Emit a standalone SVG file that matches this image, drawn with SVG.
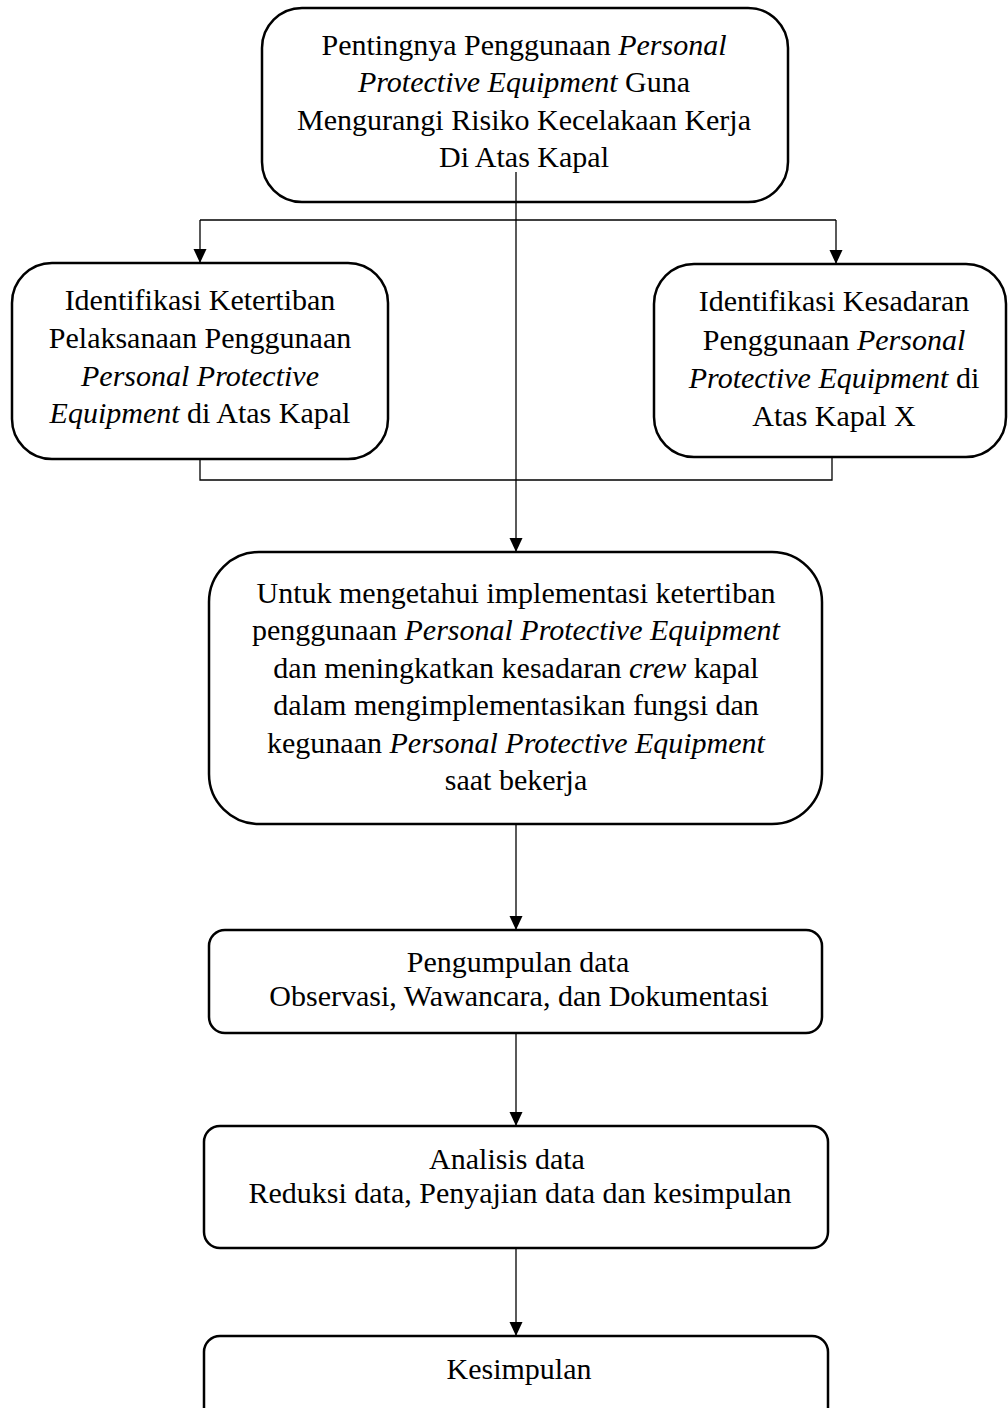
<svg xmlns="http://www.w3.org/2000/svg" width="1008" height="1408" viewBox="0 0 1008 1408">
<style>
.box{fill:#fff;stroke:#000;stroke-width:2.5}
.t{font-family:"Liberation Serif","Times New Roman",serif;font-size:30px;fill:#000;text-anchor:middle}
.i{font-style:italic}
.ln{fill:none;stroke:#000;stroke-width:1.3}
</style>
<defs>
<marker id="ah" markerWidth="14" markerHeight="16" refX="14" refY="7" orient="auto" markerUnits="userSpaceOnUse" viewBox="0 0 14 14">
<path d="M0,0.5 L14,7 L0,13.5 Z" fill="#000"/>
</marker>
</defs>
<rect width="1008" height="1408" fill="#fff"/>
<g id="n1">
<rect class="box" x="262" y="8" width="526" height="194" rx="40"/>
<text class="t" x="524" y="55">Pentingnya Penggunaan <tspan class="i">Personal</tspan></text>
<text class="t" x="524" y="92"><tspan class="i">Protective Equipment</tspan> Guna</text>
<text class="t" x="524" y="130">Mengurangi Risiko Kecelakaan Kerja</text>
<text class="t" x="524" y="167">Di Atas Kapal</text>
</g>
<g id="n2">
<rect class="box" x="12" y="263" width="376" height="196" rx="40"/>
<text class="t" x="200" y="310">Identifikasi Ketertiban</text>
<text class="t" x="200" y="348">Pelaksanaan Penggunaan</text>
<text class="t" x="200" y="386"><tspan class="i">Personal Protective</tspan></text>
<text class="t" x="200" y="423"><tspan class="i">Equipment</tspan> di Atas Kapal</text>
</g>
<g id="n3">
<rect class="box" x="654" y="264" width="352" height="193" rx="40"/>
<text class="t" x="834" y="311">Identifikasi Kesadaran</text>
<text class="t" x="834" y="350">Penggunaan <tspan class="i">Personal</tspan></text>
<text class="t" x="834" y="388"><tspan class="i">Protective Equipment</tspan> di</text>
<text class="t" x="834" y="426">Atas Kapal X</text>
</g>
<g id="n4">
<rect class="box" x="209" y="552" width="613" height="272" rx="50"/>
<text class="t" x="516" y="603">Untuk mengetahui implementasi ketertiban</text>
<text class="t" x="516" y="640">penggunaan <tspan class="i">Personal Protective Equipment</tspan></text>
<text class="t" x="516" y="678">dan meningkatkan kesadaran <tspan class="i">crew</tspan> kapal</text>
<text class="t" x="516" y="715">dalam mengimplementasikan fungsi dan</text>
<text class="t" x="516" y="753">kegunaan <tspan class="i">Personal Protective Equipment</tspan></text>
<text class="t" x="516" y="790">saat bekerja</text>
</g>
<g id="n5">
<rect class="box" x="209" y="930" width="613" height="103" rx="16"/>
<text class="t" x="518" y="972">Pengumpulan data</text>
<text class="t" x="519" y="1006">Observasi, Wawancara, dan Dokumentasi</text>
</g>
<g id="n6">
<rect class="box" x="204" y="1126" width="624" height="122" rx="16"/>
<text class="t" x="507" y="1169">Analisis data</text>
<text class="t" x="520" y="1203">Reduksi data, Penyajian data dan kesimpulan</text>
</g>
<g id="n7">
<rect class="box" x="204" y="1336" width="624" height="100" rx="16"/>
<text class="t" x="519" y="1379">Kesimpulan</text>
</g>
<g id="connectors">
<path class="ln" d="M200,220 H836"/>
<path class="ln" d="M200,220 V263" marker-end="url(#ah)"/>
<path class="ln" d="M836,220 V264" marker-end="url(#ah)"/>
<path class="ln" d="M516,172 V552" marker-end="url(#ah)"/>
<path class="ln" d="M200,459 V480 H832 V457"/>
<path class="ln" d="M516,824 V930" marker-end="url(#ah)"/>
<path class="ln" d="M516,1033 V1126" marker-end="url(#ah)"/>
<path class="ln" d="M516,1248 V1336" marker-end="url(#ah)"/>
</g>
</svg>
